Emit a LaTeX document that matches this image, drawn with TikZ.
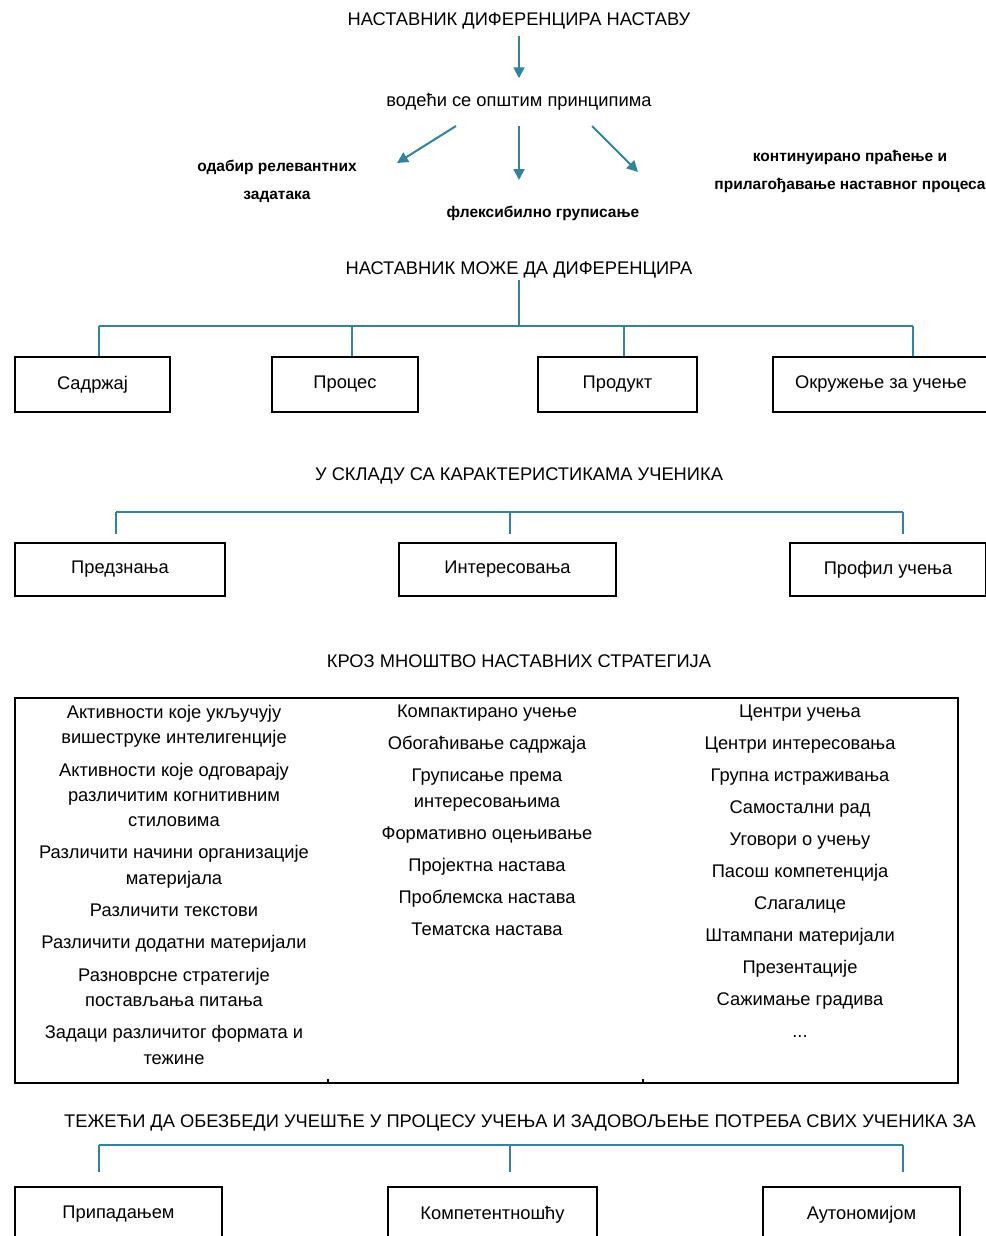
\documentclass[tikz,border=0pt]{standalone}
\usepackage{fontspec}
\setmainfont{Liberation Sans}
\usetikzlibrary{arrows.meta}
\definecolor{plava}{RGB}{49,132,155}
\tikzset{
  naslov/.style={font=\fontsize{18.3}{20}\selectfont, inner sep=2pt},
  princip/.style={font=\fontsize{15.5}{28}\selectfont\bfseries, align=center, inner sep=2pt},
  kutija/.style={draw, line width=1.6pt, minimum height=55pt, font=\fontsize{18.3}{20}\selectfont},
  kolona/.style={align=center, anchor=north, inner sep=0pt, font=\fontsize{18.3}{25.3}\selectfont},
  strelica/.style={plava, line width=2pt, -{Triangle[length=11pt,width=11pt]}},
  grana/.style={plava, line width=1.5pt}
}
\begin{document}
\begin{tikzpicture}[x=1pt,y=-1pt]
    \useasboundingbox (0,0) rectangle (985,1236);
    % Nastavnik diferencira
    \node[naslov] (t1) at (519,21) {НАСТАВНИК ДИФЕРЕНЦИРА НАСТАВУ};
    \node[naslov] (t2) at (519,102) {водећи се општим принципима};
    \draw[strelica, shorten <=5pt, shorten >=13pt] (t1) -- (t2);
    % Principi
    \node[princip] (p1) at (277,181) {одабир релевантних\\задатака};
    \node[princip] (p2) at (543,213) {флексибилно груписање};
    \node[princip] (p3) at (850,171) {континуирано праћење и\\прилагођавање наставног процеса};
    \coordinate (s1) at (456,126);
    \coordinate (e1) at (397,163);
    \coordinate (s2) at (519,126);
    \coordinate (e2) at (519,180);
    \coordinate (s3) at (592,126);
    \coordinate (e3) at (638,172);
    \draw[strelica] (s1) -- (e1);
    \draw[strelica] (s2) -- (e2);
    \draw[strelica] (s3) -- (e3);
    % Moze da diferencira
    \node[naslov] (t3) at (519,270) {НАСТАВНИК МОЖЕ ДА ДИФЕРЕНЦИРА};
    \node[kutija, minimum width=155pt] (sadrzaj) at (92.5,384.5) {Садржај};
    \node[kutija, minimum width=146pt] (proces) at (345,384.5) {Процес};
    \node[kutija, minimum width=159pt] (produkt) at (617.5,384.5) {Продукт};
    \node[kutija, minimum width=216pt] (okruzenje) at (881,384.5) {Окружење за учење};
    \coordinate (g1) at (519,326);
    \coordinate (g1a) at (99,326);
    \coordinate (g1b) at (352,326);
    \coordinate (g1c) at (624,326);
    \coordinate (g1d) at (913,326);
    \draw[grana] (t3.south) -- (g1);
    \draw[grana] (g1a) -- (g1d);
    \draw[grana] (g1a) -- (g1a |- sadrzaj.north);
    \draw[grana] (g1b) -- (g1b |- proces.north);
    \draw[grana] (g1c) -- (g1c |- produkt.north);
    \draw[grana] (g1d) -- (g1d |- okruzenje.north);
    % Karakteristike ucenika
    \node[naslov] (t4) at (519,476) {У СКЛАДУ СА КАРАКТЕРИСТИКАМА УЧЕНИКА};
    \node[kutija, minimum width=210pt, minimum height=53pt] (predznanja) at (120,569.5) {Предзнања};
    \node[kutija, minimum width=217pt, minimum height=53pt] (interesovanja) at (507.5,569.5) {Интересовања};
    \node[kutija, minimum width=196pt, minimum height=53pt] (profil) at (888,569.5) {Профил учења};
    \coordinate (g2a) at (116,512);
    \coordinate (g2b) at (510,512);
    \coordinate (g2c) at (903,512);
    \draw[grana] (g2a) -- (g2c);
    \draw[grana] (g2a) -- ([yshift=8pt]g2a |- predznanja.north);
    \draw[grana] (g2b) -- ([yshift=8pt]g2b |- interesovanja.north);
    \draw[grana] (g2c) -- ([yshift=8pt]g2c |- profil.north);
    % Strategije
    \node[naslov] (t5) at (519,661) {КРОЗ МНОШТВО НАСТАВНИХ СТРАТЕГИЈА};
    \draw[line width=1.6pt] (15,698) rectangle (958,1083);
    \draw[line width=2pt] (328,1083) -- (328,1079);
    \draw[line width=2pt] (643,1083) -- (643,1079);
    \node[kolona] (k1) at (174,705) {Активности које укључују\\вишеструке интелигенције\\[7pt]
        Активности које одговарају\\различитим когнитивним\\стиловима\\[7pt]
        Различити начини организације\\материјала\\[7pt]
        Различити текстови\\[7pt]
        Различити додатни материјали\\[7pt]
        Разноврсне стратегије\\постављања питања\\[7pt]
        Задаци различитог формата и\\тежине};
    \node[kolona] (k2) at (487,705) {Компактирано учење\\[6.7pt]
        Обогаћивање садржаја\\[6.7pt]
        Груписање према\\интересовањима\\[6.7pt]
        Формативно оцењивање\\[6.7pt]
        Пројектна настава\\[6.7pt]
        Проблемска настава\\[6.7pt]
        Тематска настава};
    \node[kolona] (k3) at (800,705) {Центри учења\\[6.7pt]
        Центри интересовања\\[6.7pt]
        Групна истраживања\\[6.7pt]
        Самостални рад\\[6.7pt]
        Уговори о учењу\\[6.7pt]
        Пасош компетенција\\[6.7pt]
        Слагалице\\[6.7pt]
        Штампани материјали\\[6.7pt]
        Презентације\\[6.7pt]
        Сажимање градива\\[6.7pt]
        ...};
    % Potrebe ucenika
    \node[naslov] (t6) at (520,1123) {ТЕЖЕЋИ ДА ОБЕЗБЕДИ УЧЕШЋЕ У ПРОЦЕСУ УЧЕЊА И ЗАДОВОЉЕЊЕ ПОТРЕБА СВИХ УЧЕНИКА ЗА};
    \node[kutija, minimum width=207pt] (pripadanje) at (118.5,1214.5) {Припадањем};
    \node[kutija, minimum width=209pt] (kompetentnost) at (492.5,1214.5) {Компетентношћу};
    \node[kutija, minimum width=197pt] (autonomija) at (861.5,1214.5) {Аутономијом};
    \coordinate (g3a) at (99,1145);
    \coordinate (g3b) at (510,1145);
    \coordinate (g3c) at (903,1145);
    \draw[grana] (g3a) -- (g3c);
    \draw[grana] (g3a) -- ([yshift=14pt]g3a |- pripadanje.north);
    \draw[grana] (g3b) -- ([yshift=14pt]g3b |- kompetentnost.north);
    \draw[grana] (g3c) -- ([yshift=14pt]g3c |- autonomija.north);
\end{tikzpicture}
\end{document}
